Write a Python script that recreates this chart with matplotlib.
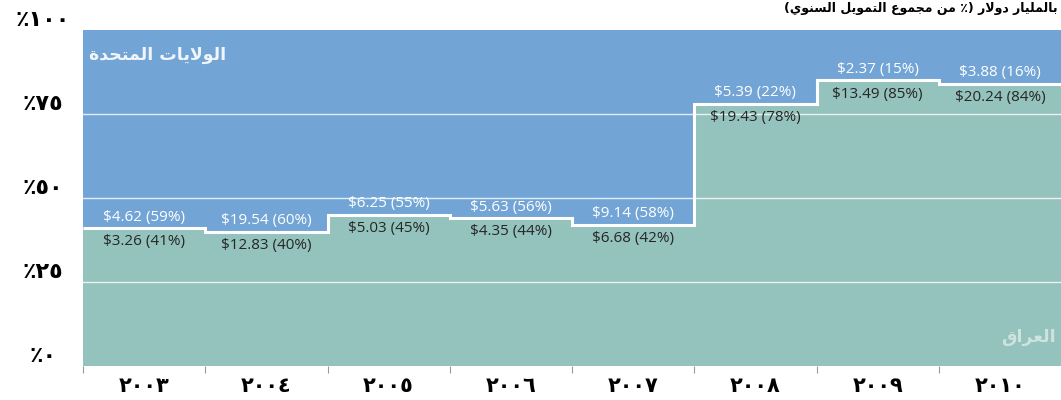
import matplotlib
matplotlib.use('Agg')
import matplotlib.pyplot as plt
import numpy as np

# data
years = ['٢٠٠٣', '٢٠٠٤', '٢٠٠٥', '٢٠٠٦', '٢٠٠٧', '٢٠٠٨', '٢٠٠٩', '٢٠١٠']
iraq_bn = [3.26, 12.83, 5.03, 4.35, 6.68, 19.43, 13.49, 20.24]
iraq_pct = [41, 40, 45, 44, 42, 78, 85, 84]
us_bn = [4.62, 19.54, 6.25, 5.63, 9.14, 5.39, 2.37, 3.88]
us_pct = [59, 60, 55, 56, 58, 22, 15, 16]
ytick_vals = [0, 25, 50, 75, 100]
ytick_labels = ['٪٠', '٪٢٥', '٪٥٠', '٪٧٥', '٪١٠٠']
title = 'بالمليار دولار (٪ من مجموع التمويل السنوي)'
us_name = 'الولايات المتحدة'
iraq_name = 'العراق'

# simple arabic shaping (matplotlib has no bidi / joining)
FORMS = {
    'ا': ('\uFE8D', '\uFE8E', None, None),
    'ب': ('\uFE8F', '\uFE90', '\uFE91', '\uFE92'),
    'ة': ('\uFE93', '\uFE94', None, None),
    'ت': ('\uFE95', '\uFE96', '\uFE97', '\uFE98'),
    'ج': ('\uFE9D', '\uFE9E', '\uFE9F', '\uFEA0'),
    'ح': ('\uFEA1', '\uFEA2', '\uFEA3', '\uFEA4'),
    'د': ('\uFEA9', '\uFEAA', None, None),
    'ر': ('\uFEAD', '\uFEAE', None, None),
    'س': ('\uFEB1', '\uFEB2', '\uFEB3', '\uFEB4'),
    'ع': ('\uFEC9', '\uFECA', '\uFECB', '\uFECC'),
    'ق': ('\uFED5', '\uFED6', '\uFED7', '\uFED8'),
    'ل': ('\uFEDD', '\uFEDE', '\uFEDF', '\uFEE0'),
    'م': ('\uFEE1', '\uFEE2', '\uFEE3', '\uFEE4'),
    'ن': ('\uFEE5', '\uFEE6', '\uFEE7', '\uFEE8'),
    'و': ('\uFEED', '\uFEEE', None, None),
    'ي': ('\uFEF1', '\uFEF2', '\uFEF3', '\uFEF4'),
}


def dual(c):
    return c in FORMS and FORMS[c][2] is not None


def shape(s):
    out = []
    i = 0
    while i < len(s):
        c = s[i]
        if c not in FORMS:
            out.append(c)
            i += 1
            continue
        pj = i > 0 and dual(s[i - 1])
        if c == 'ل' and i + 1 < len(s) and s[i + 1] == 'ا':
            out.append('\uFEFC' if pj else '\uFEFB')
            i += 2
            continue
        nj = dual(c) and i + 1 < len(s) and s[i + 1] in FORMS
        iso, fin, ini, med = FORMS[c]
        if pj and nj:
            out.append(med)
        elif pj:
            out.append(fin)
        elif nj:
            out.append(ini)
        else:
            out.append(iso)
        i += 1
    mirror = {'(': ')', ')': '('}
    return ''.join(mirror.get(c, c) for c in reversed(out))


blue = '#72a5d6'
green = '#94c2bc'

fig = plt.figure(figsize=(10.61, 4), dpi=100)
ax = fig.add_axes([83 / 1061, 34 / 400, 1 - 83 / 1061, 336 / 400])

x = np.arange(len(years))
ax.bar(x, iraq_pct, width=1.0, color=green, linewidth=0, zorder=1)
ax.bar(x, us_pct, width=1.0, bottom=iraq_pct, color=blue, linewidth=0, zorder=1)
for v in [25, 50, 75]:
    ax.axhline(v, color='white', lw=1, alpha=0.8, zorder=2)
ax.stairs(iraq_pct, np.arange(len(years) + 1) - 0.5, baseline=None,
          color='white', lw=2.2, zorder=3)

ax.set_xlim(-0.5, len(years) - 0.5)
ax.set_ylim(0, 100)

for i in range(len(years)):
    ax.annotate('$%.2f (%d%%)' % (us_bn[i], us_pct[i]), (x[i], iraq_pct[i]),
                xytext=(0, 2.5), textcoords='offset points', ha='center', va='bottom',
                color='white', fontsize=11, family='Open Sans', zorder=4)
    ax.annotate('$%.2f (%d%%)' % (iraq_bn[i], iraq_pct[i]), (x[i], iraq_pct[i]),
                xytext=(0, -4.5), textcoords='offset points', ha='center', va='top',
                color='#262626', fontsize=11, family='Open Sans', zorder=4)

ax.text(0.006, 0.925, shape(us_name), transform=ax.transAxes, ha='left', va='center',
        color='white', alpha=0.9, fontsize=12.5, fontweight='bold', family='DejaVu Sans')
ax.text(0.995, 0.085, shape(iraq_name), transform=ax.transAxes, ha='right', va='center',
        color='white', alpha=0.55, fontsize=12.5, fontweight='bold', family='DejaVu Sans')

ax.set_yticks(ytick_vals)
ax.set_yticklabels(ytick_labels, fontsize=16, fontweight='bold', family='DejaVu Sans')
for t in ax.get_yticklabels():
    t.set_horizontalalignment('center')
    t.set_verticalalignment('bottom')
ax.tick_params(axis='y', length=0, pad=29)

ax.set_xticks(x)
ax.set_xticklabels(years, fontsize=15, fontweight='bold', family='DejaVu Sans')
ax.set_xticks(np.arange(len(years)) - 0.5, minor=True)
ax.tick_params(axis='x', which='major', length=0, pad=7)
ax.tick_params(axis='x', which='minor', length=5, color='#999999', width=0.8)

for s in ax.spines.values():
    s.set_visible(False)

fig.text(1058 / 1061, 1 - 2 / 400, shape(title), ha='right', va='top',
         fontsize=9, fontweight='bold', family='DejaVu Sans')

fig.savefig('out.png', dpi=100)
